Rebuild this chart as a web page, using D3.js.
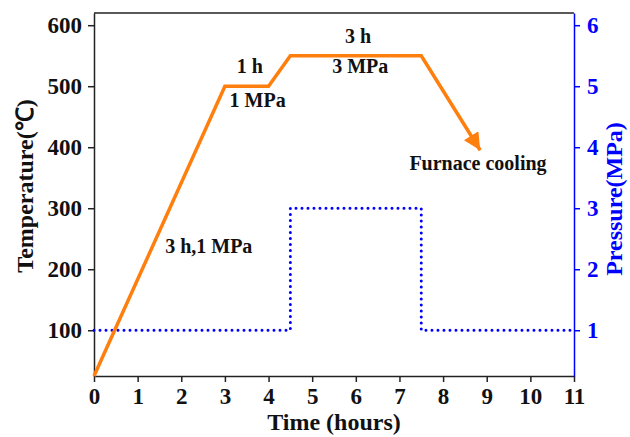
<!DOCTYPE html>
<html>
<head>
<meta charset="utf-8">
<script src="https://cdn.jsdelivr.net/npm/d3@7"></script>
<style>
  body { margin: 0; background: #fff; }
  text { font-family: "Liberation Serif", "Times New Roman", serif; font-weight: bold; }
</style>
</head>
<body>
<div id="chart"></div>
<script>
// temperature profile (hours, °C)
var tempTime = [0, 3, 4, 4.5, 7.5, 8.85];
var tempValue = [25, 500, 500, 550, 550, 395];
// pressure profile (hours, MPa)
var presTime = [0, 4.5, 4.5, 7.5, 7.5, 11];
var presValue = [1, 1, 3, 3, 1, 1];
var xTicks = [0, 1, 2, 3, 4, 5, 6, 7, 8, 9, 10, 11];
var tempTicks = [100, 200, 300, 400, 500, 600];
var presTicks = [1, 2, 3, 4, 5, 6];
// annotations: [time, temperature, text]
var notes = [
  [3.57, 522, "1 h"],
  [3.75, 466, "1 MPa"],
  [6.05, 571, "3 h"],
  [6.1, 522, "3 MPa"],
  [2.63, 227, "3 h,1 MPa"],
  [8.8, 363, "Furnace cooling"]
];

var width = 630, height = 437;
var margin = { top: 13, right: 56, bottom: 61, left: 94 };

var svg = d3.select("#chart").append("svg")
  .attr("width", width)
  .attr("height", height);

var x = d3.scaleLinear().domain([0, 11]).range([margin.left, width - margin.right]);
var y = d3.scaleLinear().domain([25, 620]).range([height - margin.bottom, margin.top]);
var y2 = d3.scaleLinear().domain([0.25, 6.2]).range([height - margin.bottom, margin.top]);

var orange = "#ff7f0e", blue = "#0000ff";

svg.append("defs").append("marker")
  .attr("id", "head")
  .attr("viewBox", "0 0 10 10")
  .attr("refX", 10).attr("refY", 5)
  .attr("markerUnits", "userSpaceOnUse")
  .attr("markerWidth", 22).attr("markerHeight", 17)
  .attr("orient", "auto")
  .append("path")
  .attr("d", "M0,0L10,5L0,10Z")
  .attr("fill", orange);

// top frame line
svg.append("line")
  .attr("x1", x(0)).attr("x2", x(11))
  .attr("y1", margin.top).attr("y2", margin.top)
  .attr("stroke", "#222").attr("stroke-width", 1.5);

// axes
var xAxis = svg.append("g")
  .attr("transform", "translate(0," + (height - margin.bottom) + ")")
  .call(d3.axisBottom(x).tickValues(xTicks).tickSize(6).tickSizeOuter(0).tickPadding(6));

var yAxis = svg.append("g")
  .attr("transform", "translate(" + margin.left + ",0)")
  .call(d3.axisLeft(y).tickValues(tempTicks).tickSize(6).tickSizeOuter(0).tickPadding(6));

var y2Axis = svg.append("g")
  .attr("transform", "translate(" + (width - margin.right) + ",0)")
  .call(d3.axisRight(y2).tickValues(presTicks).tickFormat(d3.format("d")).tickSize(6).tickSizeOuter(0).tickPadding(7));

[xAxis, yAxis, y2Axis].forEach(function (g) {
  g.attr("font-family", null).attr("font-size", null);
  g.selectAll("text").attr("font-size", 23);
});
[xAxis, yAxis].forEach(function (g) {
  g.selectAll("path, line").attr("stroke", "#222").attr("stroke-width", 1.5);
  g.selectAll("text").attr("fill", "#111");
});
y2Axis.selectAll("path, line").attr("stroke", blue).attr("stroke-width", 1.5);
y2Axis.selectAll("text").attr("fill", blue);

// pressure line
svg.append("path")
  .datum(d3.range(presTime.length))
  .attr("fill", "none")
  .attr("stroke", blue)
  .attr("stroke-width", 3)
  .attr("stroke-linecap", "round")
  .attr("stroke-dasharray", "0 6")
  .attr("d", d3.line().x(function (i) { return x(presTime[i]); }).y(function (i) { return y2(presValue[i]); }));

// temperature line
svg.append("path")
  .datum(d3.range(tempTime.length))
  .attr("fill", "none")
  .attr("stroke", orange)
  .attr("stroke-width", 3.5)
  .attr("marker-end", "url(#head)")
  .attr("d", d3.line().x(function (i) { return x(tempTime[i]); }).y(function (i) { return y(tempValue[i]); }));

// annotations
svg.selectAll(".note")
  .data(notes)
  .enter().append("text")
  .attr("class", "note")
  .attr("x", function (d) { return x(d[0]); })
  .attr("y", function (d) { return y(d[1]); })
  .attr("text-anchor", "middle")
  .attr("font-size", 20)
  .attr("fill", "#111")
  .text(function (d) { return d[2]; });

// axis titles
svg.append("text")
  .attr("x", x(5.5)).attr("y", 430)
  .attr("text-anchor", "middle")
  .attr("font-size", 24)
  .attr("fill", "#111")
  .text("Time (hours)");

svg.append("text")
  .attr("transform", "translate(33," + 186 + ") rotate(-90)")
  .attr("text-anchor", "middle")
  .attr("font-size", 24)
  .attr("fill", "#111")
  .text("Temperature(℃)");

svg.append("text")
  .attr("transform", "translate(622," + 199 + ") rotate(-90)")
  .attr("text-anchor", "middle")
  .attr("font-size", 24)
  .attr("fill", blue)
  .text("Pressure(MPa)");
</script>
</body>
</html>
